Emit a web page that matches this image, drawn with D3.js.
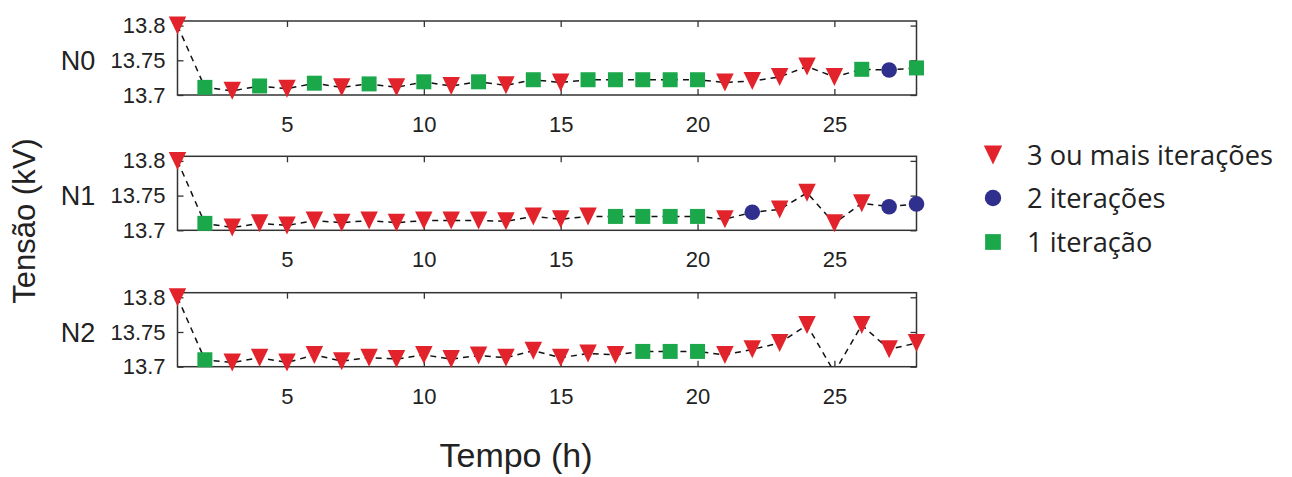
<!DOCTYPE html>
<html>
<head>
<meta charset="utf-8">
<script src="https://cdn.jsdelivr.net/npm/d3@7"></script>
<style>
  html, body { margin: 0; padding: 0; background: #fff; }
  svg { display: block; }
</style>
</head>
<body>
<svg id="chart" width="1292" height="477"></svg>
<script>
// Hours of the day (x axis)
const hours = [1,2,3,4,5,6,7,8,9,10,11,12,13,14,15,16,17,18,19,20,21,22,23,24,25,26,27,28];

// Node names
const nodes = ["N0", "N1", "N2"];

// Voltage (kV) per node and hour
const voltN0 = [13.800,13.711,13.706,13.713,13.709,13.717,13.711,13.716,13.711,13.719,13.713,13.719,13.714,13.722,
                13.718,13.722,13.722,13.722,13.722,13.722,13.718,13.720,13.726,13.741,13.726,13.737,13.736,13.739];
const voltN1 = [13.800,13.710,13.704,13.710,13.707,13.714,13.711,13.714,13.711,13.714,13.714,13.714,13.713,13.720,
                13.716,13.720,13.720,13.720,13.720,13.720,13.716,13.726,13.730,13.754,13.710,13.739,13.734,13.738];
const voltN2 = [13.800,13.710,13.706,13.713,13.706,13.717,13.708,13.713,13.711,13.717,13.711,13.716,13.713,13.723,
                13.713,13.719,13.717,13.722,13.722,13.722,13.717,13.725,13.734,13.760,13.692,13.760,13.725,13.734];

// Number of iterations needed per node and hour (3 means 3 or more)
const iterN0 = [3,1,3,1,3,1,3,1,3,1,3,1,3,1,3,1,1,1,1,1,3,3,3,3,3,1,2,1];
const iterN1 = [3,1,3,3,3,3,3,3,3,3,3,3,3,3,3,3,1,1,1,1,3,2,3,3,3,3,2,2];
const iterN2 = [3,1,3,3,3,3,3,3,3,3,3,3,3,3,3,3,3,1,1,1,3,3,3,3,3,3,3,3];

// Axis ticks
const xTicks = [5, 10, 15, 20, 25];
const yTicks = [13.7, 13.75, 13.8];
const yTickLabels = ["13.7", "13.75", "13.8"];

// Legend entries
const legendIters = [3, 2, 1];
const legendLabels = ["3 ou mais iterações", "2 iterações", "1 iteração"];

const voltages = [voltN0, voltN1, voltN2];
const iterations = [iterN0, iterN1, iterN2];

const svg = d3.select("#chart");

const plotLeft = 177.5, plotRight = 916.5, plotH = 74;
const panelBottoms = [95, 230.3, 366.7];

const x = d3.scaleLinear().domain([1, 28]).range([plotLeft, plotRight]);
const yDomain = [13.7, 13.8066];

const color = { 3: "#e3232b", 2: "#2f2f8d", 1: "#1ba84b" };
const axisColor = "#333";
const textColor = "#222";
const axisFont = "Liberation Sans, Arial, sans-serif";

function drawMarker(sel, iter, scale = 1) {
  if (iter === 3) {
    const w = 17.5 * scale, h = 18 * scale;
    sel.append("path")
      .attr("d", `M${-w/2},${-h/2}L${w/2},${-h/2}L0,${h/2}Z`)
      .attr("fill", color[3]);
  } else if (iter === 2) {
    sel.append("circle").attr("r", 7.8 * scale).attr("fill", color[2]);
  } else {
    const s = 15 * scale;
    sel.append("rect").attr("x", -s/2).attr("y", -s/2).attr("width", s).attr("height", s)
      .attr("fill", color[1]);
  }
}

nodes.forEach((name, i) => {
  const bottom = panelBottoms[i];
  const top = bottom - plotH;
  const y = d3.scaleLinear().domain(yDomain).range([bottom, top]);
  const g = svg.append("g");

  const clipId = "clip" + i;
  svg.append("clipPath").attr("id", clipId)
    .append("rect").attr("x", plotLeft).attr("y", top).attr("width", plotRight - plotLeft).attr("height", plotH);

  // Axes with inward ticks on all four sides
  const tickLen = 6;
  g.append("g").attr("transform", `translate(0,${bottom})`)
    .call(d3.axisBottom(x).tickValues(xTicks).tickSize(-tickLen).tickFormat(d3.format("d")))
    .call(a => a.select(".domain").remove())
    .call(a => a.selectAll("text").attr("y", 37).attr("dy", 0));
  g.append("g").attr("transform", `translate(0,${top})`)
    .call(d3.axisTop(x).tickValues(xTicks).tickSize(-tickLen).tickFormat(""))
    .call(a => a.select(".domain").remove());
  g.append("g").attr("transform", `translate(${plotLeft},0)`)
    .call(d3.axisLeft(y).tickValues(yTicks).tickSize(-tickLen).tickPadding(12)
      .tickFormat((d, k) => yTickLabels[k]))
    .call(a => a.select(".domain").remove());
  g.append("g").attr("transform", `translate(${plotRight},0)`)
    .call(d3.axisRight(y).tickValues(yTicks).tickSize(-tickLen).tickFormat(""))
    .call(a => a.select(".domain").remove());

  g.selectAll(".tick line").attr("stroke", axisColor).attr("stroke-width", 1.3);
  g.selectAll(".tick text").attr("fill", textColor).attr("font-family", axisFont).attr("font-size", 22);

  g.append("rect")
    .attr("x", plotLeft).attr("y", top).attr("width", plotRight - plotLeft).attr("height", plotH)
    .attr("fill", "none").attr("stroke", axisColor).attr("stroke-width", 1.5);

  // Node label
  g.append("text")
    .attr("x", 78).attr("y", y(13.75))
    .attr("dy", "0.36em")
    .attr("text-anchor", "middle")
    .attr("font-family", axisFont).attr("font-size", 27).attr("fill", textColor)
    .text(name);

  const pts = hours.map((h, k) => ({ h, v: voltages[i][k], it: iterations[i][k] }));

  // Dashed line through the hourly values
  g.append("path")
    .datum(pts)
    .attr("clip-path", `url(#${clipId})`)
    .attr("d", d3.line().x(d => x(d.h)).y(d => y(d.v)))
    .attr("fill", "none").attr("stroke", "#111").attr("stroke-width", 1.5)
    .attr("stroke-dasharray", "6,5");

  // Markers, only for values inside the visible range
  g.selectAll("g.pt")
    .data(pts.filter(d => d.v >= yDomain[0] && d.v <= yDomain[1]))
    .join("g").attr("class", "pt")
    .attr("transform", d => `translate(${x(d.h)},${y(d.v)})`)
    .each(function(d) { drawMarker(d3.select(this), d.it); });
});

// Axis titles
svg.append("text")
  .attr("x", 516).attr("y", 467)
  .attr("text-anchor", "middle")
  .attr("font-family", axisFont).attr("font-size", 34).attr("fill", textColor)
  .text("Tempo (h)");

svg.append("text")
  .attr("transform", "translate(35,221) rotate(-90)")
  .attr("text-anchor", "middle")
  .attr("font-family", axisFont).attr("font-size", 31).attr("fill", textColor)
  .text("Tensão (kV)");

// Legend
const legendY = [155, 198, 242];
const legendFont = "Open Sans, Lato, sans-serif";
const legend = svg.append("g");
const legendTexts = [];
legendIters.forEach((it, k) => {
  const row = legend.append("g").attr("transform", `translate(993,${legendY[k]})`);
  drawMarker(row, it, 1.05);
  legendTexts.push(row.append("text")
    .attr("x", 34).attr("dy", "0.35em")
    .attr("font-family", legendFont).attr("font-size", 22).attr("font-weight", 500)
    .attr("fill", textColor)
    .text(legendLabels[k]));
});
// Size the legend font so the longest entry spans about 246px
const longest = legendTexts[0].node().getComputedTextLength();
const legendSize = 22 * 246 / longest;
legendTexts.forEach(t => t.attr("font-size", legendSize));
</script>
</body>
</html>
